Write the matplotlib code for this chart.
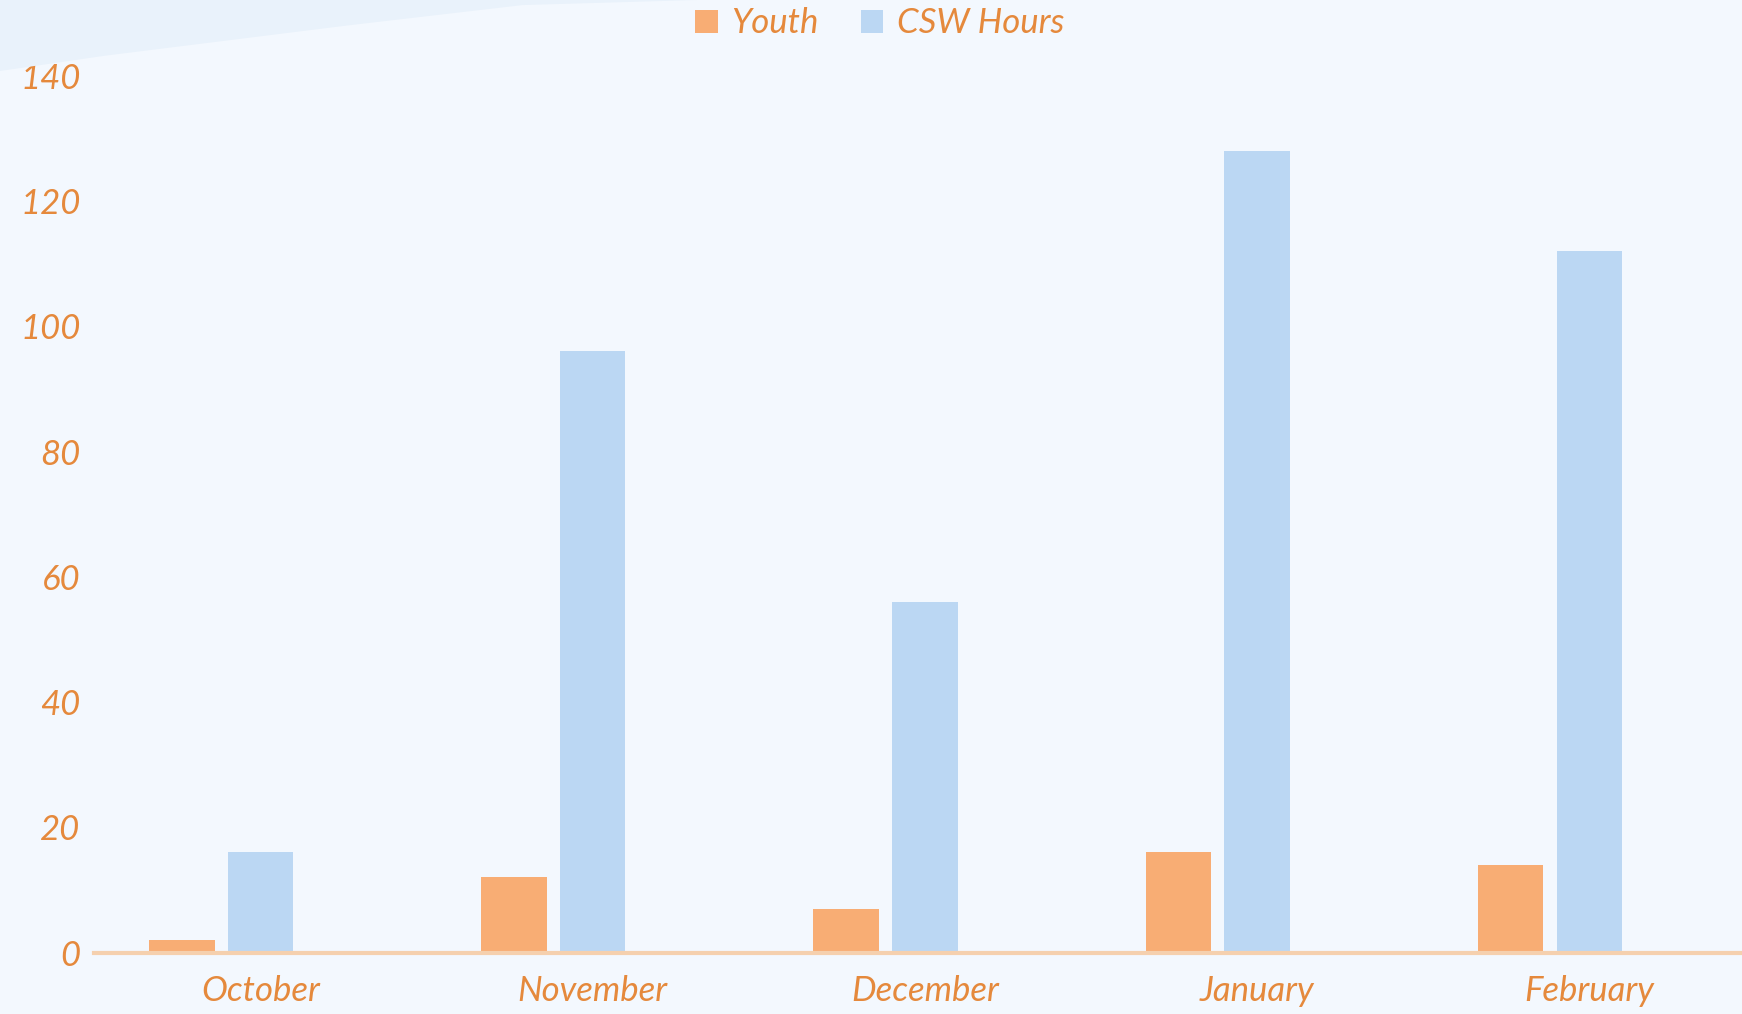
import matplotlib.pyplot as plt
import numpy as np
from matplotlib.patches import Polygon

months = ["October", "November", "December", "January", "February"]
youth = [2, 12, 7, 16, 14]
csw_hours = [16, 96, 56, 128, 112]
yticks = [0, 20, 40, 60, 80, 100, 120, 140]

bg = "#F3F8FE"
text_color = "#E5893C"
youth_color = "#F8AD74"
csw_color = "#BBD7F3"

plt.rcParams["font.family"] = ["Lato", "DejaVu Sans"]
plt.rcParams["font.style"] = "italic"

fig = plt.figure(figsize=(17.42, 10.14), dpi=100, facecolor=bg)

# faint swoosh in the top-left corner
swoosh = Polygon(
    [[0, 1], [0, 0.93], [0.06, 0.945], [0.2, 0.975], [0.3, 0.995], [0.4, 1]],
    closed=True, transform=fig.transFigure, facecolor="#E9F2FB", edgecolor="none",
    zorder=0,
)
fig.patches.append(swoosh)

# axes runs slightly past the right edge, like the source
ax = fig.add_axes([0.0542, 0.0605, 0.9535, 0.8649])
ax.set_facecolor("none")

x = np.arange(len(months))
w = 0.197
ax.bar(x - 0.237, youth, width=w, color=youth_color, label="Youth", zorder=2)
ax.bar(x, csw_hours, width=w, color=csw_color, label="CSW Hours", zorder=2)

ax.set_xlim(-0.5, 4.5)
ax.set_ylim(0, 140)
ax.set_yticks(yticks)
ax.set_xticks(x)
ax.set_xticklabels(months)
ax.tick_params(axis="both", length=0, labelsize=25, colors=text_color)
ax.tick_params(axis="y", pad=10)
ax.tick_params(axis="x", pad=16)

for s in ["top", "right", "left"]:
    ax.spines[s].set_visible(False)
ax.spines["bottom"].set_color("#F5D0AE")
ax.spines["bottom"].set_linewidth(3)
ax.spines["bottom"].set_zorder(3)

fig.legend(
    loc="center", bbox_to_anchor=(0.505, 0.977), ncol=2, frameon=False,
    fontsize=25, labelcolor=text_color, handlelength=0.65, handleheight=0.65,
    handletextpad=0.4, columnspacing=1.2,
)

fig.savefig("out.png", dpi=100, facecolor=bg)
